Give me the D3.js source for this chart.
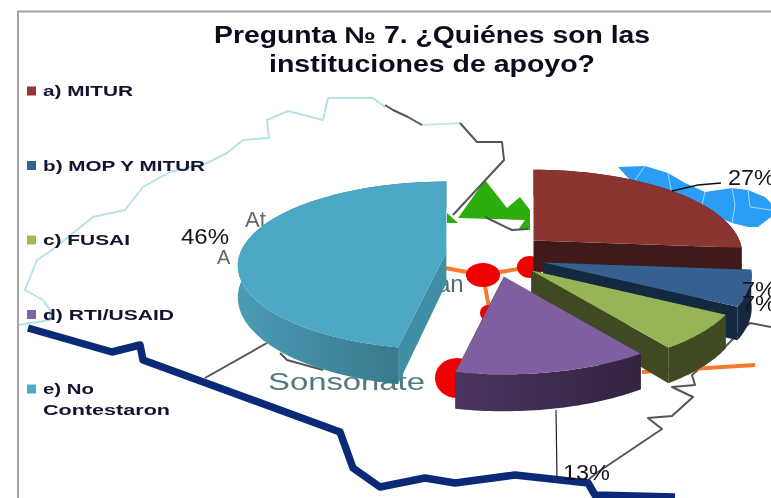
<!DOCTYPE html>
<html>
<head>
<meta charset="utf-8">
<script src="https://cdn.jsdelivr.net/npm/d3@7"></script>
<style>
  html, body { margin: 0; padding: 0; background: #fff; overflow: hidden; }
  svg { display: block; filter: blur(0.45px); font-family: "Liberation Sans", Arial, sans-serif; }
</style>
</head>
<body>
<svg width="771" height="498"></svg>
<script>
// chart values
var categories = ["a) MITUR", "b) MOP Y MITUR", "c) FUSAI", "d) RTI/USAID", "e) No"];
var values = [27, 7, 7, 13, 46];
var titleLines = ["Pregunta № 7. ¿Quiénes son las", "instituciones de apoyo?"];

// slice colours, same order as the categories
var topColors = ["#8b3533", "#35608f", "#97b557", "#7f5f9f", "#4ba7c3"];
var sideLight = ["#3f1a18", "#142840", "#3f4a22", "#4b3560", "#4a9bb5"];
var sideDark = ["#3f1a18", "#142840", "#3f4a22", "#35233f", "#356f82"];
var legendColors = ["#953735", "#376092", "#9bbb59", "#8064a2", "#4bacc6"];

var svg = d3.select("svg");

// background map, sits behind the pie
var lineGen = d3.line();

var tealLine = [[18,325],[50,320],[50,310],[43,300],[25,290],[37,260],[52,250],[93,217],[125,210],[143,187],[170,172],[207,163],[227,153],[243,140],[269,138],[267,120],[288,111],[323,120],[328,98],[373,98],[385,107]];
var borderTop = [[385,105],[393,110],[408,117],[422,125]];
var tealTop = [[422,125],[460,123]];
var borderRight = [[460,123],[477,142],[502,142],[504,160],[453,215]];
var borderGreen = [[485,217],[512,230],[528,229]];
var borderLeft = [[205,378],[267,343]];
var borderSon = [[280,353],[287,360],[323,370]];
var borderSouth = [[771,327],[750,323],[742,330],[725,347],[692,375],[695,385],[672,387],[693,397],[672,416],[648,418],[662,429],[598,472],[588,480]];
var navyLine = [[28,328],[112,352],[140,345],[143,360],[340,432],[353,468],[380,487],[425,478],[455,483],[515,475],[588,483],[595,495],[675,497]];
var greenBig = [[458,218],[485,180],[507,208],[520,197],[530,210],[530,230],[518,230],[525,220]];
var greenSmall = [[447,213],[458,223],[447,223]];
var blueArea = [[618,167],[645,166],[668,173],[685,183],[705,192],[732,188],[748,190],[765,197],[771,203],[771,217],[758,227],[748,227],[732,223],[718,217],[660,200],[630,180]];
var blueInner = [[[645,166],[635,180]],[[668,173],[672,195]],[[705,192],[702,205],[718,217]],[[732,188],[735,205],[732,223]],[[748,190],[750,207],[771,210]]];
var orangeLines = [[[445,268],[483,275],[530,267]],[[483,275],[490,313]],[[642,372],[755,365]]];
var redDots = [[483,275,17,12],[530,267,13,11],[488,313,8,8],[457,378,22,20]];

var map = svg.append("g");

function mapLine(pts, color, width) {
    map.append("path").attr("d", lineGen(pts)).attr("fill", "none")
        .attr("stroke", color).attr("stroke-width", width).attr("stroke-linejoin", "round");
}

map.append("path").attr("d", lineGen(blueArea) + "Z").attr("fill", "#2a9df4");
blueInner.forEach(function(p) { mapLine(p, "#a9d6fa", 1); });
map.append("path").attr("d", lineGen(greenBig) + "Z").attr("fill", "#2eae0c");
map.append("path").attr("d", lineGen(greenSmall) + "Z").attr("fill", "#2eae0c");

mapLine(tealLine, "#b5e2e6", 2);
mapLine(tealTop, "#c5e6ea", 2);
[borderTop, borderRight, borderGreen, borderLeft, borderSon, borderSouth].forEach(function(p) {
    mapLine(p, "#555", 2);
});
orangeLines.forEach(function(p) { mapLine(p, "#f47a30", 4); });
redDots.forEach(function(c) {
    map.append("ellipse").attr("cx", c[0]).attr("cy", c[1]).attr("rx", c[2]).attr("ry", c[3]).attr("fill", "#f00000");
});
mapLine(navyLine, "#0a2a78", 7.5);

map.append("text").attr("x", 268).attr("y", 390).attr("textLength", 157).attr("lengthAdjust", "spacingAndGlyphs")
    .style("font-size", "23px").attr("fill", "#4f7a7f").text("Sonsonate");
map.append("text").attr("x", 437).attr("y", 292).style("font-size", "24px").attr("fill", "#4f6a70").text("an");
map.append("text").attr("x", 245).attr("y", 227).style("font-size", "22px").attr("fill", "#666").text("At");
map.append("text").attr("x", 217).attr("y", 264).style("font-size", "20px").attr("fill", "#666").text("A");

// frame
svg.append("path").attr("d", "M18,498V11.5H771").attr("fill", "none").attr("stroke", "#a3a3a3").attr("stroke-width", 2);

// title
svg.selectAll(".title").data(titleLines).enter().append("text")
    .attr("class", "title")
    .attr("x", 432)
    .attr("y", function(d, i) { return 43 + i * 29; })
    .attr("text-anchor", "middle")
    .attr("textLength", function(d, i) { return i == 0 ? 436 : 326; })
    .attr("lengthAdjust", "spacingAndGlyphs")
    .style("font-size", "23px").style("font-weight", "bold").attr("fill", "#0b0b1e")
    .text(function(d) { return d; });

// legend
var legendY = d3.scalePoint().domain(categories).range([91, 389]);
var legendW = [90, 162, 87, 131, 51];
var legend = svg.selectAll(".legend").data(categories).enter().append("g").attr("class", "legend")
    .attr("transform", function(d) { return "translate(27," + legendY(d) + ")"; });
legend.append("rect").attr("y", -4.5).attr("width", 9).attr("height", 9)
    .attr("fill", function(d, i) { return legendColors[i]; });
legend.append("text").attr("x", 16).attr("y", 5)
    .attr("textLength", function(d, i) { return legendW[i]; }).attr("lengthAdjust", "spacingAndGlyphs")
    .style("font-size", "15px").style("font-weight", "bold").attr("fill", "#10142e")
    .text(function(d) { return d; });
svg.append("text").attr("x", 43).attr("y", 415).attr("textLength", 127).attr("lengthAdjust", "spacingAndGlyphs")
    .style("font-size", "15px").style("font-weight", "bold").attr("fill", "#10142e").text("Contestaron");

// pie, drawn as an exploded tilted disc with some perspective
var pieData = d3.pie().sort(null)(values);
var cx = 496, cy = 255, rx = 206, ry = 82, persp = 0.16, wallH = 31, explodeX = 50, explodeY = 22;
var skew = 3 * Math.PI / 180;

function rim(angle) {
    // the near side of the disc leans a little to the right
    var a = angle - skew * Math.sin(angle / 2);
    var s = 1 / (1 + persp * Math.cos(a));
    return { x: rx * Math.sin(a) * s, y: -ry * Math.cos(a) * s, h: wallH * s };
}

var defs = svg.append("defs");
var area = d3.line().x(function(d) { return d[0]; }).y(function(d) { return d[1]; });
var order = d3.range(values.length);

order.forEach(function(i) {
    var d = pieData[i];
    var mid = (d.startAngle + d.endAngle) / 2;
    var ox = cx + explodeX * Math.sin(mid);
    var oy = cy - explodeY * Math.cos(mid);

    var angles = d3.range(0, 41).map(function(t) { return d.startAngle + (d.endAngle - d.startAngle) * t / 40; });
    var rimTop = angles.map(function(a) { var r = rim(a); return [ox + r.x, oy + r.y]; });
    var rimBottom = angles.map(function(a) { var r = rim(a); return [ox + r.x, oy + r.y + r.h]; });

    var grad = defs.append("linearGradient").attr("id", "wall" + i);
    grad.append("stop").attr("offset", "0%").attr("stop-color", sideLight[i]);
    grad.append("stop").attr("offset", "100%").attr("stop-color", sideDark[i]);

    var g = svg.append("g");
    // the two flat cut walls
    [0, angles.length - 1].forEach(function(k) {
        g.append("path")
            .attr("d", area([[ox, oy], [ox, oy + wallH], rimBottom[k], rimTop[k]]) + "Z")
            .attr("fill", i == 4 ? "#3f8ea3" : sideDark[i]);
    });
    // outer wall
    g.append("path")
        .attr("d", area(rimTop.concat(rimBottom.slice().reverse())) + "Z")
        .attr("fill", "url(#wall" + i + ")");
    // top face
    g.append("path")
        .attr("d", area([[ox, oy]].concat(rimTop)) + "Z")
        .attr("fill", topColors[i]);
});

// leaders and percent labels
svg.append("path").attr("d", lineGen([[672,191],[698,185],[721,183]])).attr("fill", "none").attr("stroke", "#111").attr("stroke-width", 1.3);
svg.append("path").attr("d", lineGen([[556,410],[557,479]])).attr("fill", "none").attr("stroke", "#222").attr("stroke-width", 1.2);

var labelX = [728, 742, 742, 563, 181];
var labelY = [185, 297, 311, 480, 244];
var labelW = [47, 34, 34, 47, 48];
svg.selectAll(".pct").data(values).enter().append("text")
    .attr("class", "pct")
    .attr("x", function(d, i) { return labelX[i]; })
    .attr("y", function(d, i) { return labelY[i]; })
    .attr("textLength", function(d, i) { return labelW[i]; })
    .attr("lengthAdjust", "spacingAndGlyphs")
    .style("font-size", "22px").attr("fill", "#14141e")
    .text(function(d) { return d + "%"; });
</script>
</body>
</html>
